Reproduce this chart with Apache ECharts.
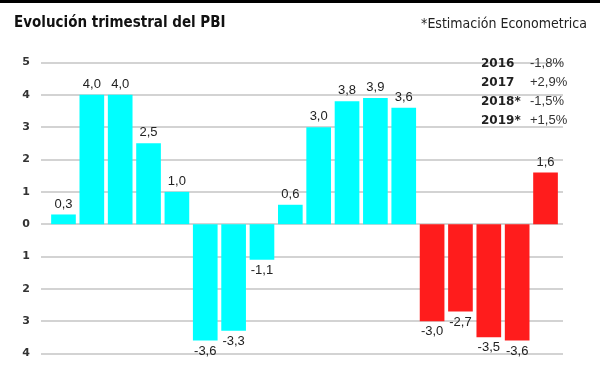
<!DOCTYPE html>
<html>
<head>
<meta charset="utf-8">
<script src="https://cdn.jsdelivr.net/npm/echarts@6/dist/echarts.min.js"></script>
<style>
  html, body { margin: 0; padding: 0; background: #fff; }
  #chart { width: 600px; height: 365px; position: absolute; left: 0; top: 0; }
  #strip { position: absolute; left: 0; top: 0; width: 600px; height: 3px; background: #000; z-index: 5; }
</style>
</head>
<body>
<div id="chart"></div>
<div id="strip"></div>
<script>
const categories = ['I-15','II-15','III-15','IV-15','I-16','II-16','III-16','IV-16','I-17','II-17','III-17','IV-17','I-18','II-18','III-18','IV-18','I-19','II-19'];
const values = [0.3, 4.0, 4.0, 2.5, 1.0, -3.6, -3.3, -1.1, 0.6, 3.0, 3.8, 3.9, 3.6, -3.0, -2.7, -3.5, -3.6, 1.6];
const estimated = [false,false,false,false,false,false,false,false,false,false,false,false,false,true,true,true,true,true];
const yTicks = [-4, -3, -2, -1, 0, 1, 2, 3, 4, 5];
const years = ['2016', '2017', '2018*', '2019*'];
const annual = ['-1,8%', '+2,9%', '-1,5%', '+1,5%'];
const titleText = 'Evolución trimestral del PBI';
const noteText = '*Estimación Econometrica';

const fmt = v => v.toFixed(1).replace('.', ',');

const seriesData = values.map((v, i) => ({
  value: v,
  itemStyle: { color: estimated[i] ? '#ff1c1c' : '#00ffff' },
  label: { position: v < 0 ? 'bottom' : 'top' }
}));

const tableText = years.map((y, i) => '{y|' + y + '}{v|' + annual[i] + '}').join('\n');

const yMin = yTicks[0], yMax = yTicks[yTicks.length - 1];

const chart = echarts.init(document.getElementById('chart'), null, { renderer: 'canvas' });
chart.setOption({
  animation: false,
  backgroundColor: '#ffffff',
  title: [
    {
      text: titleText, left: 14, top: 16, padding: 0,
      textStyle: { fontFamily: '"Liberation Sans Narrow", "DejaVu Sans Condensed", sans-serif', fontWeight: 'bold', fontSize: 15, color: '#111' }
    },
    {
      text: noteText, right: 13, top: 17, padding: 0,
      textStyle: { fontFamily: '"Liberation Sans Narrow", "DejaVu Sans Condensed", sans-serif', fontWeight: 'normal', fontSize: 14, color: '#222' }
    },
    {
      text: tableText, left: 481, top: 54, padding: 0,
      textStyle: {
        rich: {
          y: { fontFamily: '"DejaVu Sans", sans-serif', fontWeight: 'bold', fontSize: 12, color: '#222', width: 49, lineHeight: 19 },
          v: { fontFamily: '"Liberation Sans", Arial, sans-serif', fontWeight: 'normal', fontSize: 13, color: '#333', lineHeight: 19 }
        }
      }
    }
  ],
  grid: [
    { left: 41, right: 37, top: 62.5, bottom: 11.5 },
    { left: 49.3, right: 40.3, top: 62.5, bottom: 11.5 }
  ],
  xAxis: [
    { gridIndex: 0, type: 'value', min: 0, max: 1, show: false },
    { gridIndex: 1, type: 'category', data: categories, show: false }
  ],
  yAxis: [
    {
      gridIndex: 0, type: 'value', min: yMin, max: yMax, interval: 1,
      axisLine: { show: false }, axisTick: { show: false },
      axisLabel: {
        margin: 11, color: '#333', fontFamily: '"DejaVu Sans", sans-serif', fontWeight: 'bold', fontSize: 11,
        formatter: v => String(Math.abs(v))
      },
      splitLine: { show: true, lineStyle: { color: '#c4c4c4', width: 1.5 } }
    },
    {
      gridIndex: 1, type: 'value', min: yMin, max: yMax, interval: 1, show: false,
      splitLine: { show: false }
    }
  ],
  series: [
    {
      type: 'bar', xAxisIndex: 1, yAxisIndex: 1,
      data: seriesData,
      barCategoryGap: '13%',
      label: {
        show: true, distance: 4,
        fontFamily: '"Liberation Sans", Arial, sans-serif', fontSize: 13, color: '#222',
        formatter: p => fmt(p.value)
      }
    }
  ]
});
</script>
</body>
</html>
